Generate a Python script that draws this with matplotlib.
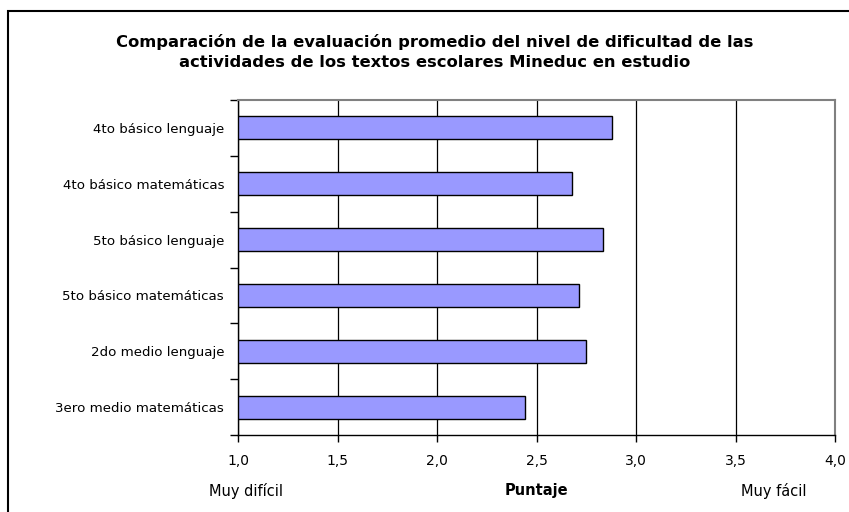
import numpy as np
import matplotlib.pyplot as plt
from matplotlib.ticker import FuncFormatter, FixedLocator
from matplotlib.patches import Rectangle

# Data (top to bottom as shown)
categories = ['4to básico lenguaje', '4to básico matemáticas', '5to básico lenguaje',
              '5to básico matemáticas', '2do medio lenguaje', '3ero medio matemáticas']
scores = [2.88, 2.68, 2.835, 2.715, 2.75, 2.44]
x_ticks = [1.0, 1.5, 2.0, 2.5, 3.0, 3.5, 4.0]

title = ('Comparación de la evaluación promedio del nivel de dificultad de las\n'
         'actividades de los textos escolares Mineduc en estudio')

plt.rcParams['font.family'] = ['DejaVu Sans']

fig = plt.figure(figsize=(8.49, 5.12), dpi=100)
fig.patch.set_facecolor('white')

# outer chart frame (only left and top visible in the crop)
fig.patches.append(Rectangle((8 / 849, -0.1), 1.2, 1 - 10.5 / 512 + 0.1,
                             transform=fig.transFigure, fill=False,
                             edgecolor='black', linewidth=1.5))

ax = fig.add_axes([238 / 849, 1 - 435 / 512, (835 - 238) / 849, 335 / 512])

y = np.arange(len(categories))
ax.barh(y, np.array(scores) - 1.0, left=1.0, height=0.41, color='#9999FF',
        edgecolor='black', linewidth=1.0, zorder=3)

ax.set_xlim(1.0, 4.0)
ax.set_ylim(len(categories) - 0.5, -0.5)

# vertical gridlines
ax.xaxis.set_major_locator(FixedLocator(x_ticks))
ax.xaxis.set_major_formatter(FuncFormatter(lambda v, p: f'{v:.1f}'.replace('.', ',')))
ax.grid(axis='x', color='black', linewidth=0.9, zorder=0)

ax.set_yticks(y)
ax.set_yticklabels(categories, fontsize=9.6)
ax.yaxis.set_minor_locator(FixedLocator(np.arange(-0.5, len(categories), 1.0)))
ax.tick_params(axis='y', which='major', length=0, pad=10)
ax.tick_params(axis='y', which='minor', length=6, width=1, direction='out')
ax.tick_params(axis='x', length=5, width=1, direction='out', labelsize=10, pad=9)

for side in ['left', 'bottom']:
    ax.spines[side].set_color('black')
    ax.spines[side].set_linewidth(1.0)
for side in ['top', 'right']:
    ax.spines[side].set_color('#808080')
    ax.spines[side].set_linewidth(1.5)

fig.text(435 / 849, 1 - 52 / 512, title, ha='center', va='center',
         fontsize=11.8, fontweight='bold', linespacing=1.45)

fig.text(246 / 849, 1 - 491 / 512, 'Muy difícil', ha='center', va='center', fontsize=10.5)
fig.text(536 / 849, 1 - 490 / 512, 'Puntaje', ha='center', va='center',
         fontsize=10.5, fontweight='bold')
fig.text(774 / 849, 1 - 491 / 512, 'Muy fácil', ha='center', va='center', fontsize=10.5)

fig.savefig('out.png', dpi=100)
